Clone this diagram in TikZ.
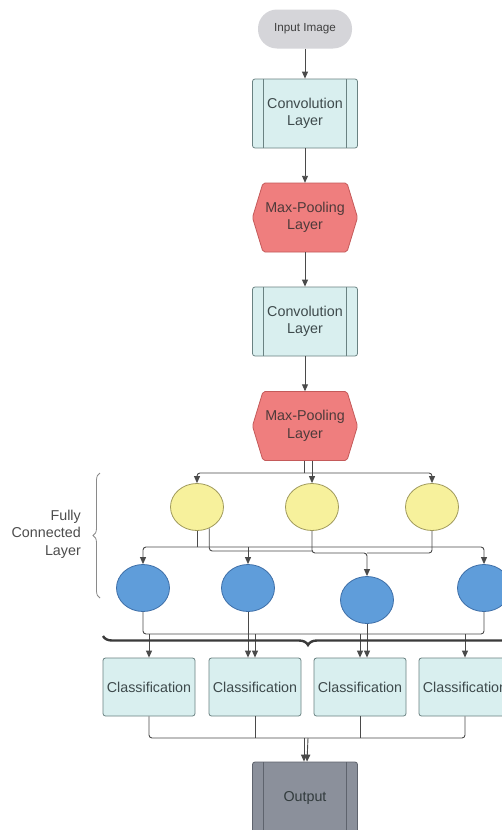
\documentclass[tikz,border=0pt]{standalone}
\usepackage{fontspec}
\setmainfont{Liberation Sans}
\usetikzlibrary{arrows.meta,shapes.geometric,decorations.pathreplacing,calc}
\definecolor{txtc}{HTML}{3E4A4C}
\definecolor{convfill}{HTML}{D9EFEF}
\definecolor{convdraw}{HTML}{6A8282}
\definecolor{poolfill}{HTML}{EF7E7E}
\definecolor{pooldraw}{HTML}{C45A5A}
\definecolor{pooltxt}{HTML}{4E3A3A}
\definecolor{inputfill}{HTML}{D5D5D9}
\definecolor{yelfill}{HTML}{F7F19C}
\definecolor{yeldraw}{HTML}{A09A5C}
\definecolor{bluefill}{HTML}{5F9DDA}
\definecolor{bluedraw}{HTML}{3E6FA8}
\definecolor{outfill}{HTML}{8B909B}
\definecolor{outdraw}{HTML}{5E636D}
\definecolor{linec}{HTML}{4A4A4A}
\definecolor{bracec}{HTML}{3A3A3A}
\definecolor{fcbrace}{HTML}{8A8A8A}
\begin{document}
\begin{tikzpicture}[x=1pt,y=-1pt,
  lbl/.style={font=\fontsize{14.3}{17.5}\selectfont, text=txtc, align=center, inner sep=0pt},
  convbox/.style={lbl, rectangle, draw=convdraw, fill=convfill, line width=0.8pt, rounded corners=2.5pt,
    minimum width=105pt, minimum height=69pt,
    path picture={\draw[convdraw, line width=0.8pt]
      ([xshift=11pt]path picture bounding box.north west) -- ([xshift=11pt]path picture bounding box.south west)
      ([xshift=-11pt]path picture bounding box.north east) -- ([xshift=-11pt]path picture bounding box.south east);}},
  outbox/.style={lbl, rectangle, draw=outdraw, fill=outfill, text=txtc!80!black, line width=0.8pt, rounded corners=2.5pt,
    minimum width=105pt, minimum height=72pt,
    path picture={\draw[outdraw, line width=0.8pt]
      ([xshift=11pt]path picture bounding box.north west) -- ([xshift=11pt]path picture bounding box.south west)
      ([xshift=-11pt]path picture bounding box.north east) -- ([xshift=-11pt]path picture bounding box.south east);}},
  poolnode/.style={lbl, rectangle, text=pooltxt, minimum width=105pt, minimum height=69pt},
  hexa/.pic={\filldraw[fill=poolfill, draw=pooldraw, line width=0.8pt, rounded corners=2pt]
      (-52.5,0) -- (-42,-34.5) -- (42,-34.5) -- (52.5,0) -- (42,34.5) -- (-42,34.5) -- cycle;},
  yel/.style={ellipse, draw=yeldraw, fill=yelfill, line width=0.8pt, minimum width=53pt, minimum height=47pt, inner sep=0pt},
  blu/.style={ellipse, draw=bluedraw, fill=bluefill, line width=0.8pt, minimum width=53pt, minimum height=47pt, inner sep=0pt},
  clsbox/.style={lbl, rectangle, draw=convdraw, fill=convfill, line width=0.8pt, rounded corners=2.5pt,
    minimum width=92pt, minimum height=58pt},
  conn/.style={draw=linec, line width=0.9pt, rounded corners=3pt},
  arr/.style={conn, -{Triangle[width=6pt,length=7pt]}}
]
\path[use as bounding box] (0,0) rectangle (502,830);
\clip (0,0) rectangle (502,830);
\fill[white] (0,0) rectangle (502,830);

% main column
\node[lbl, font=\fontsize{11.7}{14}\selectfont, text=black!75, fill=inputfill, rounded corners=19pt,
  minimum width=94pt, minimum height=39pt] (in) at (305,29) {Input Image};
\node[convbox] (cv1) at (305,113.5) {Convolution\\Layer};
\pic at (305,217.5) {hexa};
\node[poolnode] (p1) at (305,217.5) {Max-Pooling\\Layer};
\node[convbox] (cv2) at (305,321.5) {Convolution\\Layer};
\pic at (305,426) {hexa};
\node[poolnode] (p2) at (305,426) {Max-Pooling\\Layer};

% fully connected nodes
\node[yel] (y1) at (197,507) {};
\node[yel] (y2) at (312,507) {};
\node[yel] (y3) at (432,507) {};
\node[blu] (b1) at (143,588) {};
\node[blu] (b2) at (248,588) {};
\node[blu] (b3) at (367,600) {};
\node[blu] (b4) at (484,588) {};

% classification
\node[clsbox] (c1) at (149,687) {Classification};
\node[clsbox] (c2) at (255,687) {Classification};
\node[clsbox] (c3) at (360,687) {Classification};
\node[clsbox] (c4) at (465,687) {Classification};

\node[outbox] (out) at (305,798) {Output};

% fully connected label
\node[lbl, align=right, anchor=east, text=black!70] (fc) at (81,534) {Fully\\Connected\\Layer};
\draw[fcbrace, line width=0.8pt, decorate, decoration={brace, amplitude=7pt}] (100,598) -- (100,473);

% main chain connectors
\draw[arr] (in) -- (cv1);
\draw[arr] (cv1) -- (p1);
\draw[arr] (p1) -- (cv2);
\draw[arr] (cv2) -- (p2);

% pool -> yellow
\coordinate (t1) at (304,473);
\draw[conn] ($(p2.south)+(-1,0)$) -- (t1);
\draw[arr] (t1) -| (y1);
\draw[arr] (t1) -| (y3);
\draw[arr] (p2.south -| y2) -- (y2);

% yellow -> blue
\coordinate (ma) at (197,547);
\coordinate (mb) at (367,553);
\draw[conn] (y1) -- (ma);
\draw[arr] (ma) -| (b1);
\draw[arr] (ma) -| (b4);
\draw[arr] (ma -| b2) -- (b2);
\draw[conn] (y1.-60) |- (312,551);
\draw[arr] (y2) |- (mb) -- (b3);
\draw[conn] (y3) |- (mb);

% blue -> classification
\coordinate (ba) at (144,634);
\draw[conn] (b1) |- (b4 |- ba) -- (b4);
\draw[arr] (b2) -- (b2 |- c2.north);
\draw[arr] (b3) -- (b3 |- c3.north);
\foreach \n in {c1,c2,c3,c4} \draw[arr] (\n |- ba) -- (\n);
\draw[bracec, line width=2.4pt, decorate, decoration={brace, amplitude=9pt}] (513,636) -- (103,636);

% classification -> output
\coordinate (bb) at (306,738);
\draw[conn] (c1) |- (c4 |- bb) -- (c4);
\draw[conn] (c2) -- (c2 |- bb);
\draw[conn] (c3) -- (c3 |- bb);
\draw[arr] ($(bb)+(-2,0)$) -- ($(out.north)+(-1,0)$);
\draw[arr] ($(bb)+(2,0)$) -- ($(out.north)+(2,0)$);
\end{tikzpicture}
\end{document}
